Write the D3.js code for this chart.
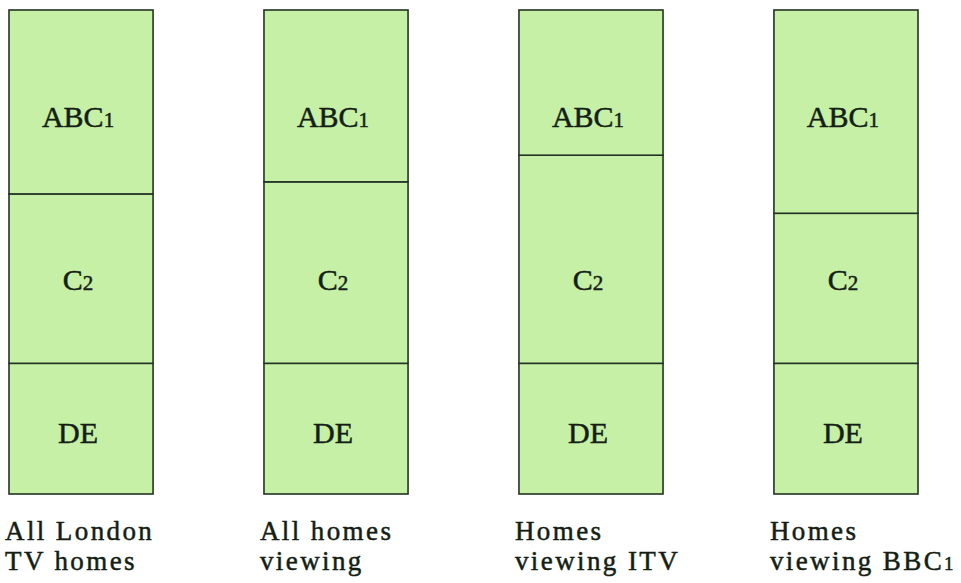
<!DOCTYPE html>
<html>
<head>
<meta charset="utf-8">
<script src="https://cdn.jsdelivr.net/npm/d3@7"></script>
<style>
  body { margin: 0; background: #fff; }
  svg { display: block; }
  .seg { fill: #c6f0a6; stroke: #243224; stroke-width: 1.6; }
  .lbl { font-family: "Liberation Serif", "DejaVu Serif", serif; fill: #141e14; stroke: #141e14; stroke-width: 0.5; }
</style>
</head>
<body>
<div id="chart"></div>
<script>
// categories (two-line labels under each bar)
var groups = ["All London TV homes", "All homes viewing", "Homes viewing ITV", "Homes viewing BBC1"];
var groupLines = [["All London", "TV homes"], ["All homes", "viewing"], ["Homes", "viewing ITV"], ["Homes", "viewing BBC1"]];
// social grades, stacked bottom to top
var grades = ["DE", "C2", "ABC1"];
// share of homes (%) per grade, one value per bar
var deValues = [27, 27, 27, 27];
var c2Values = [35, 37.5, 43, 31];
var abc1Values = [38, 35.5, 30, 42];

var width = 961,
  height = 583;

var svg = d3.select("#chart").append("svg")
  .attr("width", width)
  .attr("height", height);

var x = d3.scaleBand()
  .domain(groups)
  .range([9, 918])
  .paddingInner(0.435)
  .paddingOuter(0);

var y = d3.scaleLinear()
  .domain([0, 100])
  .range([494, 10]);

//build rows for the stack from the arrays
var rows = groups.map(function(g, i) {
  return { group: g, DE: deValues[i], C2: c2Values[i], ABC1: abc1Values[i] };
});

var series = d3.stack().keys(grades)(rows);

svg.selectAll("g.layer")
  .data(series)
  .enter()
  .append("g")
  .attr("class", "layer")
  .selectAll("rect")
  .data(function(s) { return s; })
  .enter()
  .append("rect")
  .attr("class", "seg")
  .attr("x", function(d) { return x(d.data.group); })
  .attr("y", function(d) { return y(d[1]); })
  .attr("width", x.bandwidth())
  .attr("height", function(d) { return y(d[0]) - y(d[1]); });

//grade names sit at the same height in every bar (value level on the y scale)
var labelLevel = { ABC1: 75.8, C2: 42.1, DE: 10.5 };

groups.forEach(function(g) {
  var cx = x(g) + x.bandwidth() / 2 - 3;
  grades.forEach(function(k) {
    var t = svg.append("text")
      .attr("class", "lbl")
      .attr("x", cx)
      .attr("y", y(labelLevel[k]))
      .attr("text-anchor", "middle")
      .style("font-size", "30px");
    // old-style figure: last digit drawn small
    var m = k.match(/^(\D+)(\d)$/);
    if (m) {
      t.append("tspan").text(m[1]);
      t.append("tspan").style("font-size", "21px").text(m[2]);
    } else {
      t.text(k);
    }
  });
});

//two-line captions under the bars, one text per line
groupLines.forEach(function(lines, i) {
  lines.forEach(function(line, j) {
    var t = svg.append("text")
      .attr("class", "lbl")
      .attr("x", x(groups[i]) - 4)
      .attr("y", 540 + j * 30)
      .style("font-size", "27px")
      .style("letter-spacing", "2.4px");
    var m = line.match(/^(.*\D)(\d)$/);
    if (m) {
      t.append("tspan").text(m[1]);
      t.append("tspan").style("font-size", "19px").text(m[2]);
    } else {
      t.text(line);
    }
  });
});
</script>
</body>
</html>
